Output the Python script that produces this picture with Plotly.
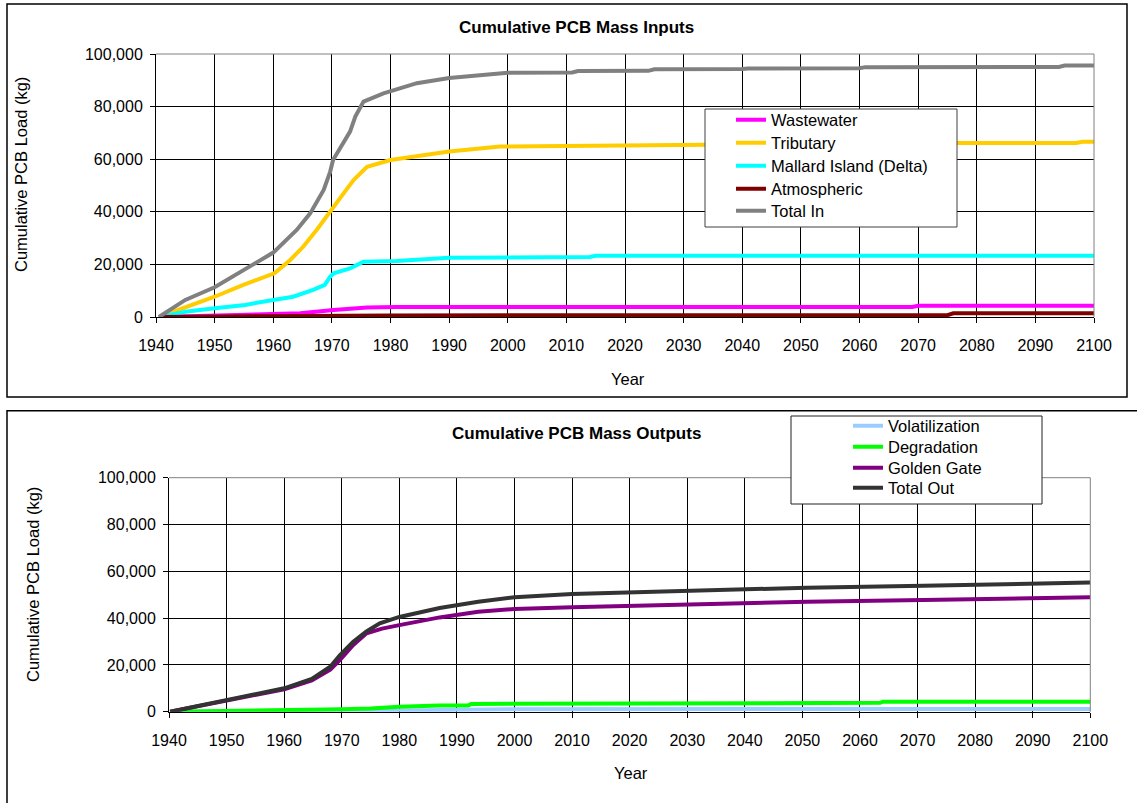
import plotly.graph_objects as go

W, H = 1137, 803
FONT = "Liberation Sans, Arial, sans-serif"

# ---------------- Cumulative inputs (kg) ----------------
yr_wastewater = [1940.5, 1955, 1960, 1964.6, 1970.3, 1976, 1981, 2069, 2070, 2100]
wastewater = [0, 700, 1100, 1400, 2700, 3600, 3800, 3800, 4300, 4300]

yr_tributary = [1940.5, 1950, 1954.9, 1960.2, 1962.9, 1965.1, 1967.4, 1969.1, 1970, 1972,
                1973.7, 1976, 1980, 1984.5, 1990, 1998.7, 2014, 2015, 2033, 2050, 2076,
                2097, 2098, 2100]
tributary = [0, 7700, 12200, 16600, 21700, 26700, 33100, 38100, 40500, 47000,
             52100, 57100, 59700, 61200, 62900, 64800, 65000, 65300, 65300, 65800, 66200,
             66200, 66600, 66600]

yr_mallard = [1940.5, 1945, 1950, 1955.2, 1960, 1963.4, 1966.8, 1968.8, 1969.7, 1970.3,
              1973.1, 1975.4, 1981, 1990, 2014, 2015, 2100]
mallard = [0, 2000, 3300, 4600, 6500, 7700, 10300, 12200, 15300, 16600,
           18500, 21000, 21300, 22500, 22800, 23300, 23300]

yr_atmospheric = [1940.5, 1960, 1970, 1980, 2075, 2076, 2100]
atmospheric = [0, 300, 500, 600, 700, 1400, 1400]

yr_total_in = [1940.5, 1945, 1950, 1955, 1960, 1964, 1966.3, 1968.6, 1969.7, 1970.2, 1972,
               1973.1, 1974, 1975.4, 1978.8, 1984.5, 1990, 2000, 2011, 2012, 2024, 2025,
               2040, 2041, 2060, 2061, 2094, 2095, 2100]
total_in = [0, 6500, 11300, 17900, 24500, 33100, 39400, 48300, 55200, 59700, 66000,
            70500, 76200, 81900, 85000, 88900, 90900, 92900, 93000, 93500, 93600, 94200,
            94300, 94500, 94600, 95000, 95100, 95600, 95600]

# ---------------- Cumulative outputs (kg) ----------------
yr_volatilization = [1940.5, 1965, 1970, 1980, 1990, 2000, 2100]
volatilization = [0, 0, 100, 500, 1000, 1100, 1150]

yr_degradation = [1940.5, 1960, 1970, 1975, 1980, 1987, 1992, 1992.5, 2009, 2009.5,
                  2063.5, 2064, 2100]
degradation = [0, 400, 1000, 1400, 2100, 2600, 2700, 3300, 3400, 3800, 3800, 4300, 4300]

yr_golden_gate = [1940.2, 1950, 1960, 1964.8, 1968, 1969.7, 1972, 1974.3, 1977, 1980,
                  1987, 1993.7, 2000, 2010, 2030.5, 2050.8, 2071, 2091.4, 2100]
golden_gate = [0, 4800, 9600, 13400, 18000, 22100, 28500, 33500, 35500, 37000,
               40300, 42700, 43900, 44600, 46000, 47000, 47700, 48500, 48900]

yr_total_out = [1940.2, 1945, 1950, 1955, 1960, 1964.8, 1968, 1969.7, 1972, 1974.3,
                1976.6, 1980, 1987, 1993.7, 2000, 2010, 2030.5, 2050.8, 2071, 2091.4, 2100]
total_out = [0, 2400, 5000, 7400, 10000, 14000, 19200, 24200, 29900, 34300,
             37800, 40500, 44300, 47000, 48900, 50300, 51700, 53000, 53800, 54900, 55200]

year_ticks = list(range(1940, 2101, 10))
load_ticks = list(range(0, 100001, 20000))


def px(x):
    return x / W


def py(y):
    return 1 - y / H


fig = go.Figure()
legend_font = dict(family=FONT, size=16.5, color="#000000")
legends = {}

inputs = [
    ("Wastewater", yr_wastewater, wastewater, "#FF00FF"),
    ("Tributary", yr_tributary, tributary, "#FFCC00"),
    ("Mallard Island (Delta)", yr_mallard, mallard, "#00FFFF"),
    ("Atmospheric", yr_atmospheric, atmospheric, "#800000"),
    ("Total In", yr_total_in, total_in, "#808080"),
]
outputs = [
    ("Volatilization", yr_volatilization, volatilization, "#99CCFF"),
    ("Degradation", yr_degradation, degradation, "#00FF00"),
    ("Golden Gate", yr_golden_gate, golden_gate, "#800080"),
    ("Total Out", yr_total_out, total_out, "#333333"),
]

# one legend entry per row so each key sits exactly on its row of the boxed key
in_rows = [120, 143, 166, 189, 211]
out_rows = [426, 447, 468, 488]

n = 0
for (name, xs, ys, col), row in zip(inputs, in_rows):
    n += 1
    key = "legend" if n == 1 else f"legend{n}"
    fig.add_trace(go.Scatter(x=xs, y=ys, name=name, mode="lines",
                             line=dict(color=col, width=4),
                             xaxis="x", yaxis="y", legend=key))
    legends[key] = dict(x=px(731), y=py(row), xanchor="left", yanchor="middle",
                        bgcolor="rgba(0,0,0,0)", borderwidth=0, font=legend_font)

for (name, xs, ys, col), row in zip(outputs, out_rows):
    n += 1
    key = f"legend{n}"
    fig.add_trace(go.Scatter(x=xs, y=ys, name=name, mode="lines",
                             line=dict(color=col, width=4),
                             xaxis="x2", yaxis="y2", legend=key))
    legends[key] = dict(x=px(848), y=py(row), xanchor="left", yanchor="middle",
                        bgcolor="rgba(0,0,0,0)", borderwidth=0, font=legend_font)

tick_font = dict(family=FONT, size=16, color="#000000")


def xaxis_cfg(dom, anchor):
    return dict(domain=dom, anchor=anchor, range=[1940, 2100], tickvals=year_ticks,
                showgrid=True, gridcolor="#000000", gridwidth=1, zeroline=False,
                showline=True, linecolor="#000000", linewidth=1,
                ticks="outside", ticklen=5, tickcolor="#000000", automargin=False,
                tickfont=tick_font, ticklabelstandoff=9, fixedrange=True)


def yaxis_cfg(dom, anchor):
    return dict(domain=dom, anchor=anchor, range=[0, 100000], tickvals=load_ticks,
                tickformat=",", showgrid=True, gridcolor="#000000", gridwidth=1,
                zeroline=False, showline=True, linecolor="#000000", linewidth=1,
                ticks="outside", ticklen=5, tickcolor="#000000", automargin=False,
                tickfont=tick_font, ticklabelstandoff=4, fixedrange=True)


fig.update_layout(
    template="none",
    width=W, height=H,
    margin=dict(l=0, r=0, t=0, b=0, autoexpand=False),
    paper_bgcolor="#FFFFFF", plot_bgcolor="#FFFFFF",
    font=dict(family=FONT, size=16, color="#000000"),
    xaxis=xaxis_cfg([px(156), px(1094)], "y"),
    yaxis=yaxis_cfg([py(317), py(54)], "x"),
    xaxis2=xaxis_cfg([px(169), px(1090.3)], "y2"),
    yaxis2=yaxis_cfg([py(711.7), py(477.7)], "x2"),
    showlegend=True,
    **legends,
)

shapes = []
# outer frames of the two chart panels
shapes.append(dict(type="rect", xref="paper", yref="paper",
                   x0=px(7), x1=px(1127), y0=py(397), y1=py(4),
                   line=dict(color="#000000", width=1.5), layer="below"))
shapes.append(dict(type="rect", xref="paper", yref="paper",
                   x0=px(7), x1=px(1150), y0=py(815), y1=py(410.7),
                   line=dict(color="#000000", width=1.5), layer="below"))
# grey plot-area edges (top and right)
for x0, x1, y0, y1 in ((156, 1094, 317, 54), (169, 1090.3, 711.7, 477.7)):
    shapes.append(dict(type="path", xref="paper", yref="paper",
                       path=(f"M{px(x0)},{py(y1)} L{px(x1)},{py(y1)} "
                             f"L{px(x1)},{py(y0)}"),
                       line=dict(color="#808080", width=1), layer="above"))
# legend boxes
shapes.append(dict(type="rect", xref="paper", yref="paper",
                   x0=px(705), x1=px(957), y0=py(227), y1=py(109),
                   fillcolor="#FFFFFF", line=dict(color="#404040", width=1),
                   layer="above"))
shapes.append(dict(type="rect", xref="paper", yref="paper",
                   x0=px(791), x1=px(1042), y0=py(504), y1=py(416),
                   fillcolor="#FFFFFF", line=dict(color="#202020", width=1),
                   layer="above"))
fig.update_layout(shapes=shapes)

annotations = [
    dict(text="<b>Cumulative PCB Mass Inputs</b>", x=px(576), y=py(27), size=17),
    dict(text="<b>Cumulative PCB Mass Outputs</b>", x=px(576), y=py(433), size=17),
    dict(text="Year", x=px(628), y=py(379), size=16.5),
    dict(text="Year", x=px(631), y=py(773), size=16.5),
    dict(text="Cumulative PCB Load (kg)", x=px(21), y=py(175), textangle=-90, size=16.5),
    dict(text="Cumulative PCB Load (kg)", x=px(33), y=py(585), textangle=-90, size=16.5),
]
for a in annotations:
    size = a.pop("size")
    a.update(xref="paper", yref="paper", showarrow=False,
             xanchor="center", yanchor="middle",
             font=dict(family=FONT, size=size, color="#000000"))
fig.update_layout(annotations=annotations)

fig.write_html("out.html")
